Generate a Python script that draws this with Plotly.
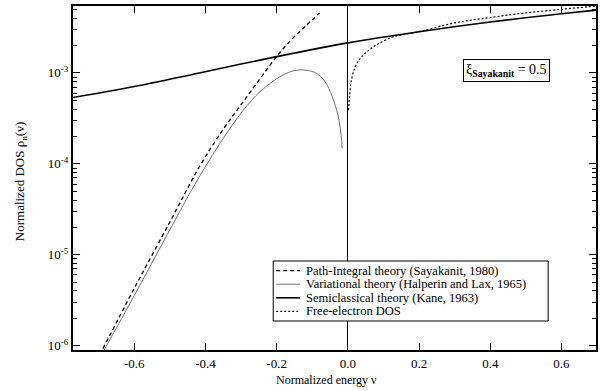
import plotly.graph_objects as go

# ---------------- data ----------------
semi_x = [-0.772, -0.6, -0.417, -0.2, 0.0, 0.2, 0.4, 0.6, 0.697]
semi_y = [5.37e-4, 7.08e-4, 1.00e-3, 1.51e-3, 2.14e-3, 2.84e-3, 3.63e-3, 4.47e-3, 4.90e-3]

path_x = [-0.688, -0.60, -0.50, -0.417, -0.35, -0.30, -0.25, -0.202, -0.16, -0.12, -0.079]
path_y = [9.3e-7, 4.27e-6, 2.29e-5, 9.3e-5, 2.40e-4, 4.47e-4, 8.3e-4, 1.48e-3, 2.29e-3, 3.24e-3, 4.57e-3]

var_x = [-0.685, -0.60, -0.52, -0.417, -0.324, -0.27, -0.23, -0.19, -0.16, -0.137,
         -0.11, -0.09, -0.065, -0.044, -0.032, -0.025, -0.019, -0.016]
var_y = [8.9e-7, 3.55e-6, 1.35e-5, 7.24e-5, 2.69e-4, 5.01e-4, 7.08e-4, 9.12e-4, 1.035e-3, 1.08e-3,
         1.06e-3, 1.0e-3, 8.13e-4, 5.5e-4, 3.98e-4, 3.02e-4, 2.09e-4, 1.48e-4]

free_x = [0.002, 0.005, 0.01, 0.02, 0.035, 0.05, 0.07, 0.09, 0.13, 0.2, 0.3, 0.4, 0.5, 0.6, 0.697]
free_y = [3.89e-4, 5.62e-4, 8.32e-4, 1.15e-3, 1.45e-3, 1.66e-3, 1.91e-3, 2.14e-3, 2.51e-3,
          2.85e-3, 3.55e-3, 4.07e-3, 4.57e-3, 5.01e-3, 5.43e-3]

x_ticks = [-0.6, -0.4, -0.2, 0.0, 0.2, 0.4, 0.6]
y_ticks = [1e-6, 1e-5, 1e-4, 1e-3]
y_ticktext = ["10<sup>-6</sup>", "10<sup>-5</sup>", "10<sup>-4</sup>", "10<sup>-3</sup>"]

legend_labels = ["Path-Integral theory (Sayakanit, 1980)",
                 "Variational theory (Halperin and Lax, 1965)",
                 "Semiclassical theory (Kane, 1963)",
                 "Free-electron DOS"]

# ---------------- styles ----------------
FONT = "Liberation Serif, Times New Roman, serif"
st_path = dict(color="black", width=1.3, dash="4px,3px")
st_var = dict(color="#707070", width=1)
st_semi = dict(color="black", width=1.6)
st_free = dict(color="black", width=1.2, dash="2px,2px")
styles = [st_path, st_var, st_semi, st_free]

fig = go.Figure()
fig.add_trace(go.Scatter(x=path_x, y=path_y, mode="lines", line=st_path,
                         line_shape="spline", name=legend_labels[0], showlegend=False))
fig.add_trace(go.Scatter(x=var_x, y=var_y, mode="lines", line=st_var,
                         line_shape="spline", name=legend_labels[1], showlegend=False))
fig.add_trace(go.Scatter(x=semi_x, y=semi_y, mode="lines", line=st_semi,
                         line_shape="spline", name=legend_labels[2], showlegend=False))
fig.add_trace(go.Scatter(x=free_x, y=free_y, mode="lines", line=st_free,
                         line_shape="spline", name=legend_labels[3], showlegend=False))

# plot area in pixels: x 73..598, y 6..350
L, R, T, B = 73, 598, 6, 350
def px(x):
    return (x - L) / (R - L)
def py(y):
    return (B - y) / (B - T)

shapes = []
annotations = []
# legend box
shapes.append(dict(type="rect", xref="paper", yref="paper",
                   x0=px(274), x1=px(550), y0=py(321), y1=py(261),
                   line=dict(color="black", width=1), fillcolor="white", layer="above"))
rows = [270.6, 284.2, 297.8, 311.4]
for lab, st, ry in zip(legend_labels, styles, rows):
    shapes.append(dict(type="line", xref="paper", yref="paper",
                       x0=px(277), x1=px(301), y0=py(ry), y1=py(ry),
                       line=st, layer="above"))
    annotations.append(dict(text=lab, xref="paper", yref="paper", x=px(305), y=py(ry),
                            xanchor="left", yanchor="middle", showarrow=False,
                            font=dict(family=FONT, size=12.5, color="black")))

# xi box
annotations.append(dict(text="ξ<sub><b>Sayakanit</b></sub> = 0.5", xref="paper", yref="paper",
                        x=px(508), y=py(70), xanchor="center", yanchor="middle",
                        showarrow=False, bordercolor="black", borderwidth=1, borderpad=2,
                        bgcolor="white", font=dict(family=FONT, size=14, color="black")))
# axis titles
annotations.append(dict(text="Normalized energy ν", xref="paper", yref="paper",
                        x=px(327), y=py(380), xanchor="center", yanchor="middle",
                        showarrow=False, font=dict(family=FONT, size=12, color="black")))
annotations.append(dict(text="Normalized DOS ρ<sub>n</sub>(ν)", xref="paper", yref="paper",
                        x=px(20), y=py(182), xanchor="center", yanchor="middle", textangle=-90,
                        showarrow=False, font=dict(family=FONT, size=13, color="black")))

minor_vals = [m * 10.0 ** e for e in range(-7, -1) for m in range(2, 10)]

fig.update_layout(
    width=601, height=391,
    margin=dict(l=L, r=601 - R, t=T, b=391 - B),
    paper_bgcolor="white", plot_bgcolor="white",
    font=dict(family=FONT, size=13, color="black"),
    shapes=shapes, annotations=annotations,
    xaxis=dict(range=[-0.772, 0.697], tickmode="array", tickvals=x_ticks,
               ticktext=["%.1f" % v for v in x_ticks],
               ticks="inside", ticklen=7, tickwidth=1.3, tickcolor="black",
               showline=True, linecolor="black", linewidth=2, mirror="ticks",
               showgrid=False, zeroline=True, zerolinecolor="black", zerolinewidth=1.2,
               tickfont=dict(family=FONT, size=13)),
    yaxis=dict(type="log", range=[-6.047, -2.264], tickmode="array", tickvals=y_ticks,
               ticktext=y_ticktext, ticks="inside", ticklen=7, tickwidth=1.3, tickcolor="black",
               showline=True, linecolor="black", linewidth=2, mirror="ticks",
               showgrid=False, zeroline=False,
               minor=dict(tickmode="array", tickvals=minor_vals, ticks="inside",
                          ticklen=4, tickcolor="black", tickwidth=1, showgrid=False),
               tickfont=dict(family=FONT, size=13)),
)

fig.write_html("out.html")
